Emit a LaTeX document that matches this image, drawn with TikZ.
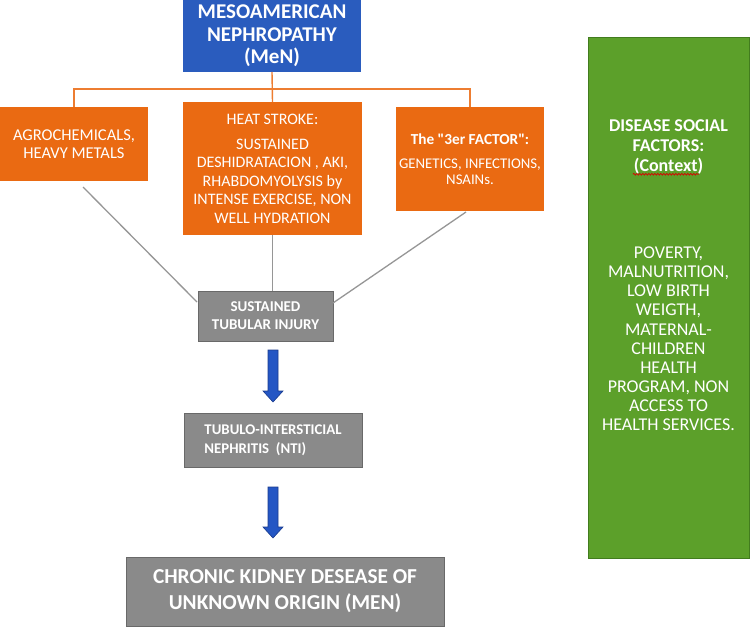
\documentclass[tikz,border=0pt]{standalone}
\usepackage{fontspec}
\setmainfont{Carlito}
\usetikzlibrary{positioning,calc,decorations.pathmorphing}

\definecolor{mesoblue}{RGB}{42,92,190}
\definecolor{causeorange}{RGB}{234,106,18}
\definecolor{busorange}{RGB}{237,125,49}
\definecolor{injurygray}{RGB}{138,138,138}
\definecolor{injuryedge}{RGB}{105,105,105}
\definecolor{socialgreen}{RGB}{92,160,42}
\definecolor{socialedge}{RGB}{66,124,30}
\definecolor{linkgray}{RGB}{150,150,150}
\definecolor{arrowblue}{RGB}{36,86,196}
\definecolor{arrowedge}{RGB}{25,58,140}

% blue block arrow between two points (x taken from the first one)
\newcommand{\blockarrow}[2]{%
  \draw[fill=arrowblue,draw=arrowedge,line width=.6pt] let \p1=#1, \p2=#2 in
    (\x1-5pt,\y1) -- (\x1+5pt,\y1) -- (\x1+5pt,\y2+11pt) -- (\x1+10pt,\y2+11pt)
    -- (\x1,\y2) -- (\x1-10pt,\y2+11pt) -- (\x1-5pt,\y2+11pt) -- cycle;}

\begin{document}
\begin{tikzpicture}[x=1pt,y=-1pt,
  every node/.style={align=center,text=white,inner sep=0pt,outer sep=0pt},
  mesobox/.style={fill=mesoblue,anchor=north west,
    font=\fontsize{21}{22.5}\selectfont\bfseries},
  causebox/.style={fill=causeorange,anchor=north west,
    font=\fontsize{16}{18.5}\selectfont},
  injurybox/.style={fill=injurygray,draw=injuryedge,line width=1pt,anchor=north west},
  socialtxt/.style={font=\fontsize{18}{19.1}\selectfont},
  bus/.style={draw=busorange,line width=1.4pt},
  link/.style={draw=linkgray,line width=1.3pt}]
\useasboundingbox (0,0) rectangle (750,627);

\node[mesobox,minimum width=178pt,minimum height=72pt] (meso) at (183,0)
      {MESOAMERICAN\\NEPHROPATHY\\(MeN)};

\node[causebox,minimum width=148pt,minimum height=74pt,
      font=\fontsize{16.5}{18.5}\selectfont] (agro) at (0,107)
      {AGROCHEMICALS,\\HEAVY METALS};
\node[causebox,minimum width=179pt,minimum height=133pt] (heat) at (183,102)
      {HEAT STROKE:\\[6.5pt] SUSTAINED\\DESHIDRATACION , AKI,\\RHABDOMYOLYSIS by\\
       INTENSE EXERCISE, NON\\WELL HYDRATION};
\node[causebox,minimum width=148pt,minimum height=104pt,
      font=\fontsize{14.8}{15.5}\selectfont] (third) at (396,107)
      {\textbf{\fontsize{15.3}{16}\selectfont The \textquotedbl 3er FACTOR\textquotedbl:}\\[9pt]
       GENETICS, INFECTIONS,\\NSAINs.};

\node[injurybox,minimum width=135pt,minimum height=50pt,
      font=\fontsize{15}{18}\selectfont\bfseries] (tub) at (198,291)
      {SUSTAINED\\TUBULAR INJURY};
\node[injurybox,minimum width=178pt,minimum height=54pt,align=left,
      font=\fontsize{14.8}{19}\selectfont\bfseries] (nti) at (184,413)
      {TUBULO-INTERSTICIAL\\ NEPHRITIS~ (NTI)};
\node[injurybox,minimum width=318pt,minimum height=69pt,
      font=\fontsize{21.3}{26}\selectfont\bfseries] (ckd) at (126,557)
      {CHRONIC KIDNEY DESEASE OF\\UNKNOWN ORIGIN (MEN)};

% social context column
\node[fill=socialgreen,draw=socialedge,line width=1pt,anchor=north west,
      minimum width=161pt,minimum height=521pt] (social) at (588,37) {};
\node[socialtxt,font=\fontsize{18}{20}\selectfont\bfseries,
      below=83pt of social.north] (socialtitle) {DISEASE SOCIAL\\FACTORS:};
\node[socialtxt,font=\fontsize{18}{20}\selectfont\bfseries,
      below=6pt of socialtitle] (context) {(Context)};
\node[socialtxt,below=73pt of context] (socialbody)
      {POVERTY,\\MALNUTRITION,\\LOW BIRTH\\WEIGTH,\\MATERNAL-\\CHILDREN\\HEALTH\\
       PROGRAM, NON\\ACCESS TO\\HEALTH SERVICES.};
\draw[red!85!black,line width=.7pt,decorate,
      decoration={snake,amplitude=.9pt,segment length=3pt}]
  ($(context.base west)+(-1,3)$) -- ($(context.base east)+(-4,3)$);

% orange bus
\coordinate (busline) at ($(meso.south)+(0,17)$);
\draw[bus] (meso.south) -- (heat.north);
\draw[bus] (agro.north) -- (agro.north |- busline) -- (third.north |- busline)
  -- (third.north);

% gray links to the injury
\draw[link] ($(agro.south)+(9,6)$) -- ($(tub.north west)+(-1,11)$);
\draw[link] (heat.south) -- (heat.south |- tub.north);
\draw[link] ($(third.south)+(-4,1)$) -- ($(tub.north east)+(0,12)$);

% progression arrows
\blockarrow{($(tub.south -| nti.north)+(0,9)$)}{($(nti.north)+(0,-11)$)}
\blockarrow{($(nti.south)+(0,20)$)}{($(ckd.north -| nti.north)+(0,-19)$)}
\end{tikzpicture}
\end{document}
